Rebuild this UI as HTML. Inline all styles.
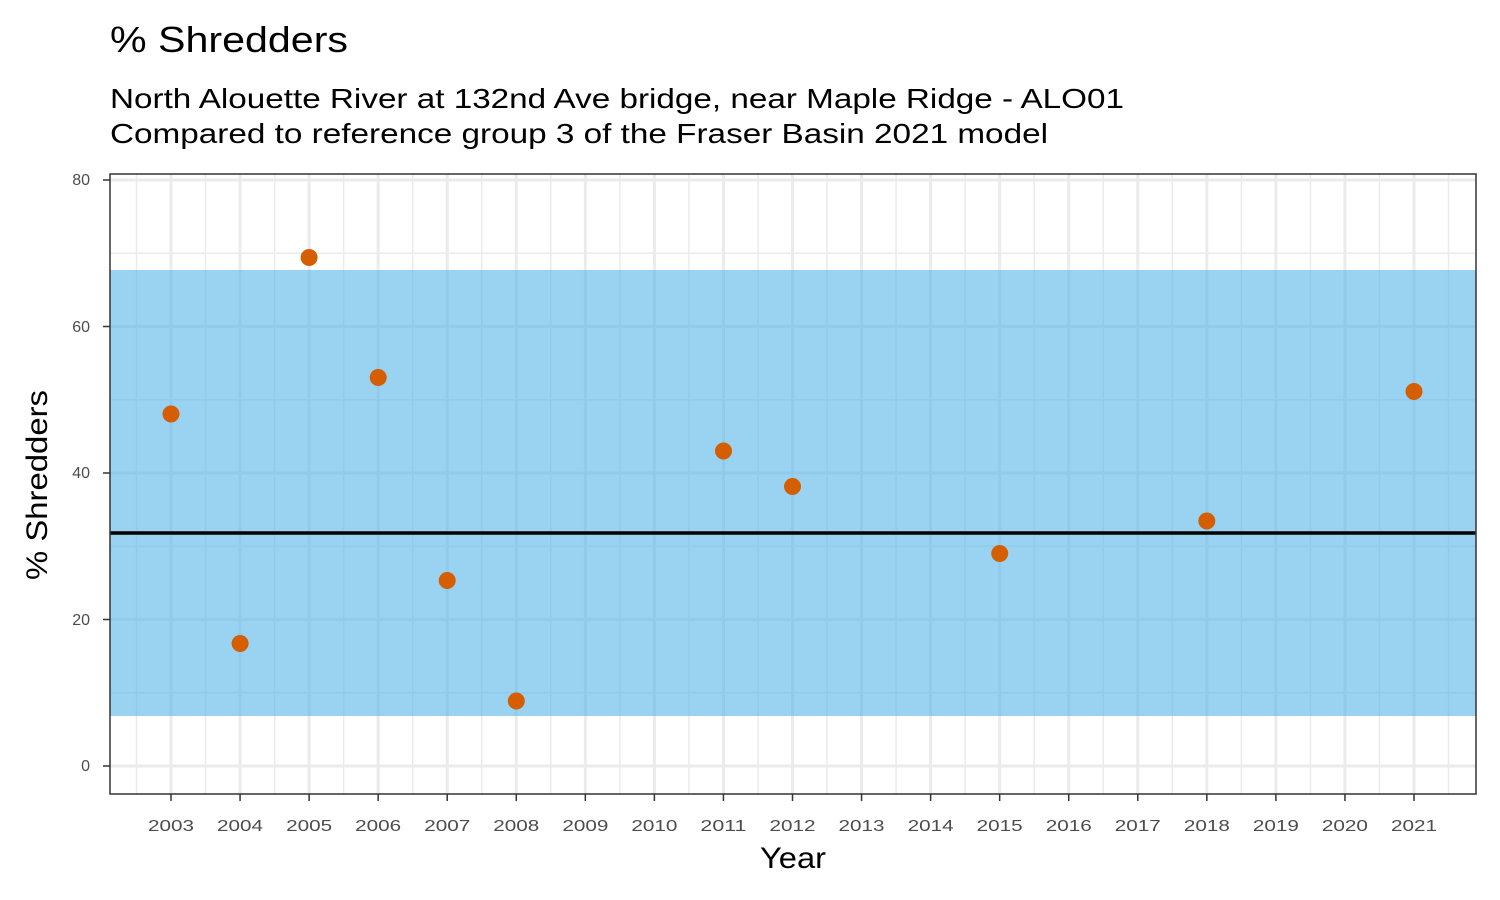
<!DOCTYPE html>
<html><head><meta charset="utf-8"><style>body{margin:0;background:#fff}svg{display:block}</style></head><body>
<svg width="1500" height="900" xmlns="http://www.w3.org/2000/svg" font-family="Liberation Sans, Arial, sans-serif">
<rect width="1500" height="900" fill="#fff"/>
<text x="110" y="52" font-size="36" fill="#000" textLength="238" lengthAdjust="spacingAndGlyphs">% Shredders</text>
<text x="110" y="108" font-size="28" fill="#000" textLength="1014" lengthAdjust="spacingAndGlyphs">North Alouette River at 132nd Ave bridge, near Maple Ridge - ALO01</text>
<text x="110" y="143" font-size="28" fill="#000" textLength="938" lengthAdjust="spacingAndGlyphs">Compared to reference group 3 of the Fraser Basin 2021 model</text>
<g id="grid">
<g stroke="#ebebeb" stroke-width="1.5">
<line x1="110" x2="1476" y1="692.8" y2="692.8"/><line x1="110" x2="1476" y1="546.3" y2="546.3"/><line x1="110" x2="1476" y1="399.8" y2="399.8"/><line x1="110" x2="1476" y1="253.3" y2="253.3"/>
</g>
<g stroke="#ebebeb" stroke-width="3">
<line x1="110" x2="1476" y1="766" y2="766"/><line x1="110" x2="1476" y1="619.5" y2="619.5"/><line x1="110" x2="1476" y1="473" y2="473"/><line x1="110" x2="1476" y1="326.5" y2="326.5"/><line x1="110" x2="1476" y1="180" y2="180"/>
</g>
<g id="vx"></g>
</g>
<rect x="110" y="270" width="1366" height="446" fill="#56B4E9" fill-opacity="0.6"/>
<line x1="110" x2="1476" y1="533" y2="533" stroke="#000" stroke-width="3.5"/>
<g fill="#D55E00">
<circle cx="171" cy="414" r="8.5"/><circle cx="240.1" cy="643.5" r="8.5"/><circle cx="309.1" cy="257.5" r="8.5"/><circle cx="378.2" cy="377.5" r="8.5"/><circle cx="447.2" cy="580.5" r="8.5"/><circle cx="516.3" cy="701" r="8.5"/><circle cx="723.5" cy="451" r="8.5"/><circle cx="792.5" cy="486.5" r="8.5"/><circle cx="999.7" cy="553.5" r="8.5"/><circle cx="1206.8" cy="521" r="8.5"/><circle cx="1414" cy="391.5" r="8.5"/>
</g>
<rect x="110" y="174" width="1366" height="620" fill="none" stroke="#333" stroke-width="1.5"/>
<g id="yt" font-size="16" fill="#4d4d4d" text-anchor="end">
<text x="90" y="771">0</text><text x="90" y="625">20</text><text x="90" y="478">40</text><text x="90" y="332">60</text><text x="90" y="185">80</text>
</g>
<g stroke="#333" stroke-width="1.5"><line x1="103" x2="110" y1="766" y2="766"/><line x1="103" x2="110" y1="619.5" y2="619.5"/><line x1="103" x2="110" y1="473" y2="473"/><line x1="103" x2="110" y1="326.5" y2="326.5"/><line x1="103" x2="110" y1="180" y2="180"/></g>
<g id="xt"></g>
<text x="793" y="868" font-size="30" text-anchor="middle" textLength="66" lengthAdjust="spacingAndGlyphs">Year</text>
<text transform="translate(47,485) rotate(-90)" font-size="30" text-anchor="middle" textLength="190" lengthAdjust="spacingAndGlyphs">% Shredders</text>
<script>
var ns="http://www.w3.org/2000/svg",vx=document.getElementById("vx"),xt=document.getElementById("xt");
for(var i=-1;i<19;i++){var x=171+69.056*i;
 var m=document.createElementNS(ns,"line");var xm=x+34.53;m.setAttribute("x1",xm);m.setAttribute("x2",xm);m.setAttribute("y1",174);m.setAttribute("y2",794);m.setAttribute("stroke","#ebebeb");m.setAttribute("stroke-width","1.5");vx.appendChild(m);
 if(i<0)continue;
 var l=document.createElementNS(ns,"line");l.setAttribute("x1",x);l.setAttribute("x2",x);l.setAttribute("y1",174);l.setAttribute("y2",794);l.setAttribute("stroke","#ebebeb");l.setAttribute("stroke-width","3");vx.appendChild(l);
 var t=document.createElementNS(ns,"line");t.setAttribute("x1",x);t.setAttribute("x2",x);t.setAttribute("y1",794);t.setAttribute("y2",801);t.setAttribute("stroke","#333");t.setAttribute("stroke-width","1.5");xt.appendChild(t);
 var s=document.createElementNS(ns,"text");s.setAttribute("x",x);s.setAttribute("y",831);s.setAttribute("font-size","16");s.setAttribute("fill","#4d4d4d");s.setAttribute("text-anchor","middle");s.setAttribute("textLength","46");s.setAttribute("lengthAdjust","spacingAndGlyphs");s.textContent=2003+i;xt.appendChild(s);}
</script>
</svg>
</body></html>
